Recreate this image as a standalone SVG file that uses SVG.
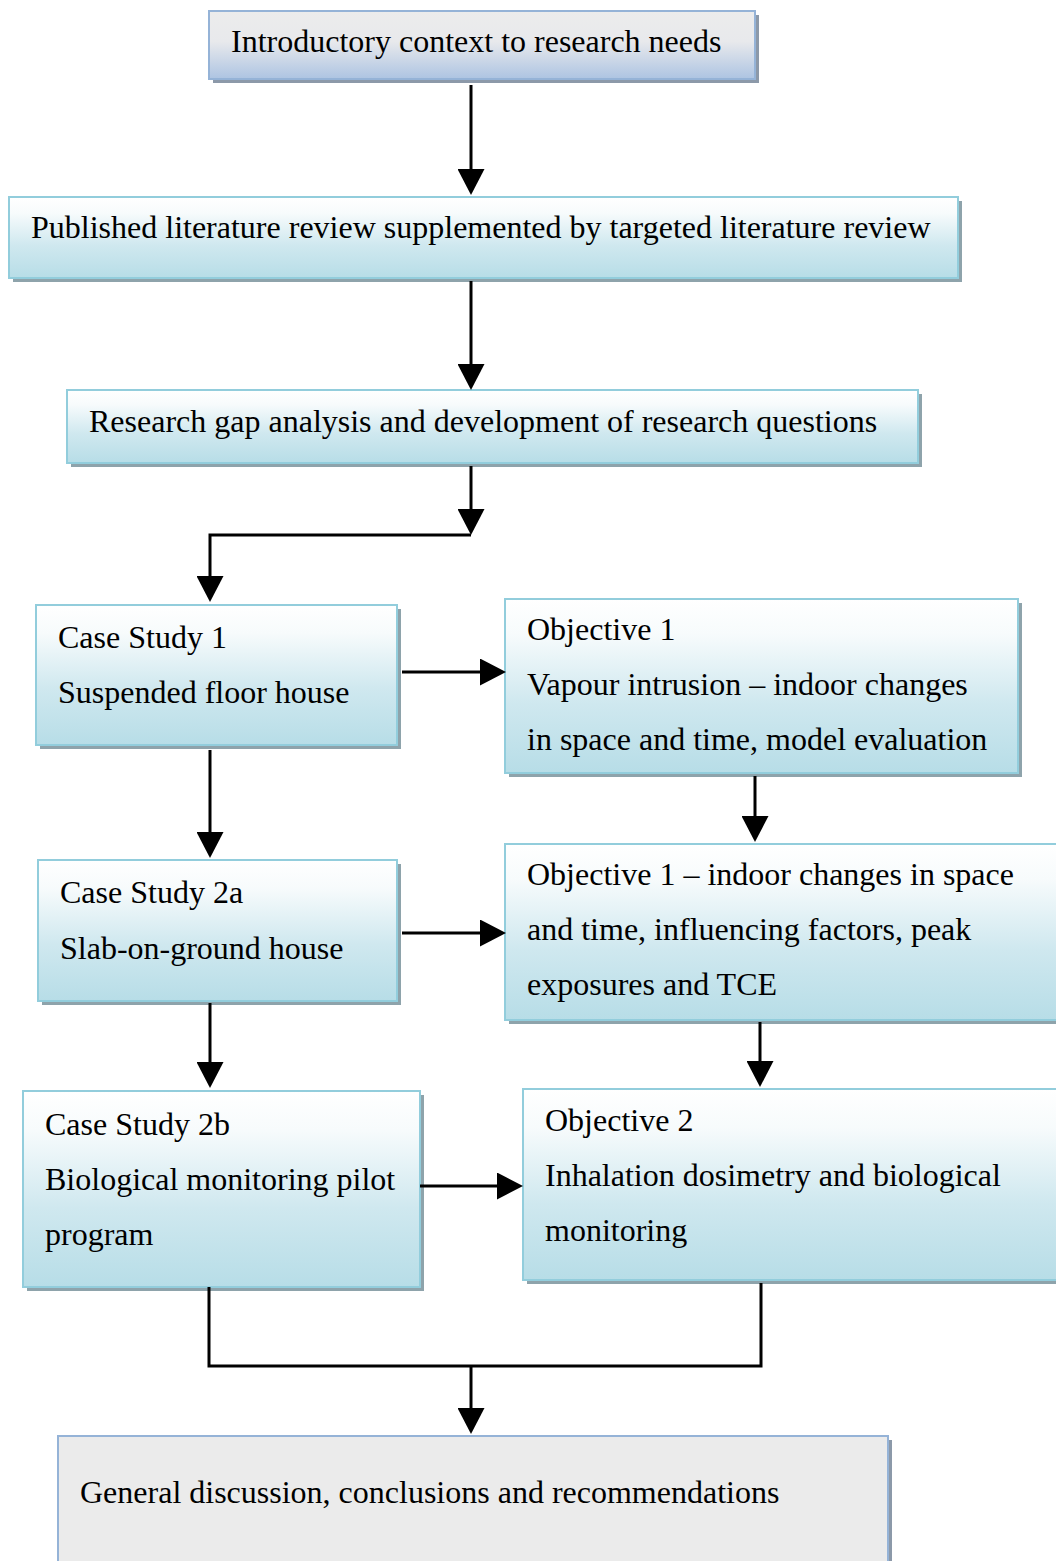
<svg xmlns="http://www.w3.org/2000/svg" width="1056" height="1561" viewBox="0 0 1056 1561">
<defs>
<linearGradient id="gBlue" x1="0" y1="0" x2="0" y2="1">
<stop offset="0" stop-color="#ececec"/>
<stop offset="0.45" stop-color="#e8e9ec"/>
<stop offset="1" stop-color="#adc4e2"/>
</linearGradient>
<linearGradient id="gTeal" x1="0" y1="0" x2="0" y2="1">
<stop offset="0" stop-color="#ffffff"/>
<stop offset="0.2" stop-color="#f7fbfc"/>
<stop offset="0.6" stop-color="#cfe8ef"/>
<stop offset="1" stop-color="#b7dde7"/>
</linearGradient>
<marker id="ah" viewBox="0 0 26 27" refX="16" refY="13.5" markerWidth="26" markerHeight="27" markerUnits="userSpaceOnUse" orient="auto">
<path d="M0,0 L26,13.5 L0,27 Z" fill="#000"/>
</marker>
<style>
.t{font-family:"Liberation Serif","Times New Roman",serif;font-size:32px;fill:#000}
.sh{fill:#8ea3ab}
.shb{fill:#8c99a9}
.bt{fill:url(#gTeal);stroke:#92cddc;stroke-width:2}
.bb{fill:url(#gBlue);stroke:#95b3d7;stroke-width:2}
.bg{fill:#ebebeb;stroke:#95b3d7;stroke-width:2}
.c{fill:none;stroke:#000;stroke-width:3}
.ca{fill:none;stroke:#000;stroke-width:3;marker-end:url(#ah)}
</style>
</defs>
<g id="n1">
<rect class="shb" x="213" y="15" width="546" height="68"/>
<rect class="bb" x="209" y="11" width="546" height="68"/>
<text class="t" x="231" y="52">Introductory context to research needs</text>
</g>
<g id="n2">
<rect class="sh" x="13" y="201" width="949" height="81"/>
<rect class="bt" x="9" y="197" width="949" height="81"/>
<text class="t" x="31" y="238">Published literature review supplemented by targeted literature review</text>
</g>
<g id="n3">
<rect class="sh" x="71" y="394" width="851" height="73"/>
<rect class="bt" x="67" y="390" width="851" height="73"/>
<text class="t" x="89" y="432">Research gap analysis and development of research questions</text>
</g>
<g id="cs1">
<rect class="sh" x="40" y="609" width="361" height="140"/>
<rect class="bt" x="36" y="605" width="361" height="140"/>
<text class="t" x="58" y="648">Case Study 1</text>
<text class="t" x="58" y="703">Suspended floor house</text>
</g>
<g id="obj1">
<rect class="sh" x="509" y="603" width="513" height="174"/>
<rect class="bt" x="505" y="599" width="513" height="174"/>
<text class="t" x="527" y="640">Objective 1</text>
<text class="t" x="527" y="695">Vapour intrusion – indoor changes</text>
<text class="t" x="527" y="750">in space and time, model evaluation</text>
</g>
<g id="cs2a">
<rect class="sh" x="42" y="864" width="359" height="141"/>
<rect class="bt" x="38" y="860" width="359" height="141"/>
<text class="t" x="60" y="903">Case Study 2a</text>
<text class="t" x="60" y="959">Slab-on-ground house</text>
</g>
<g id="obj1b">
<rect class="sh" x="509" y="848" width="560" height="176"/>
<rect class="bt" x="505" y="844" width="560" height="176"/>
<text class="t" x="527" y="885">Objective 1 – indoor changes in space</text>
<text class="t" x="527" y="940">and time, influencing factors, peak</text>
<text class="t" x="527" y="995">exposures and TCE</text>
</g>
<g id="cs2b">
<rect class="sh" x="27" y="1095" width="397" height="196"/>
<rect class="bt" x="23" y="1091" width="397" height="196"/>
<text class="t" x="45" y="1135">Case Study 2b</text>
<text class="t" x="45" y="1190">Biological monitoring pilot</text>
<text class="t" x="45" y="1245">program</text>
</g>
<g id="obj2">
<rect class="sh" x="527" y="1093" width="545" height="191"/>
<rect class="bt" x="523" y="1089" width="545" height="191"/>
<text class="t" x="545" y="1131">Objective 2</text>
<text class="t" x="545" y="1186">Inhalation dosimetry and biological</text>
<text class="t" x="545" y="1241">monitoring</text>
</g>
<g id="final">
<rect class="shb" x="62" y="1440" width="830" height="140"/>
<rect class="bg" x="58" y="1436" width="830" height="140"/>
<text class="t" x="80" y="1503">General discussion, conclusions and recommendations</text>
</g>
<g id="connectors">
<line class="ca" x1="471" y1="85" x2="471" y2="185"/>
<line class="ca" x1="471" y1="281" x2="471" y2="380"/>
<line class="ca" x1="471" y1="466" x2="471" y2="525"/>
<polyline class="ca" points="471,535 210,535 210,592"/>
<line class="ca" x1="402" y1="672" x2="496" y2="672"/>
<line class="ca" x1="210" y1="750" x2="210" y2="848"/>
<line class="ca" x1="755" y1="776" x2="755" y2="832"/>
<line class="ca" x1="402" y1="933" x2="496" y2="933"/>
<line class="ca" x1="210" y1="1003" x2="210" y2="1078"/>
<line class="ca" x1="760" y1="1022" x2="760" y2="1077"/>
<line class="ca" x1="420" y1="1186" x2="513" y2="1186"/>
<polyline class="c" points="209,1287 209,1366 761,1366 761,1283"/>
<line class="ca" x1="471" y1="1366" x2="471" y2="1424"/>
</g>
</svg>
